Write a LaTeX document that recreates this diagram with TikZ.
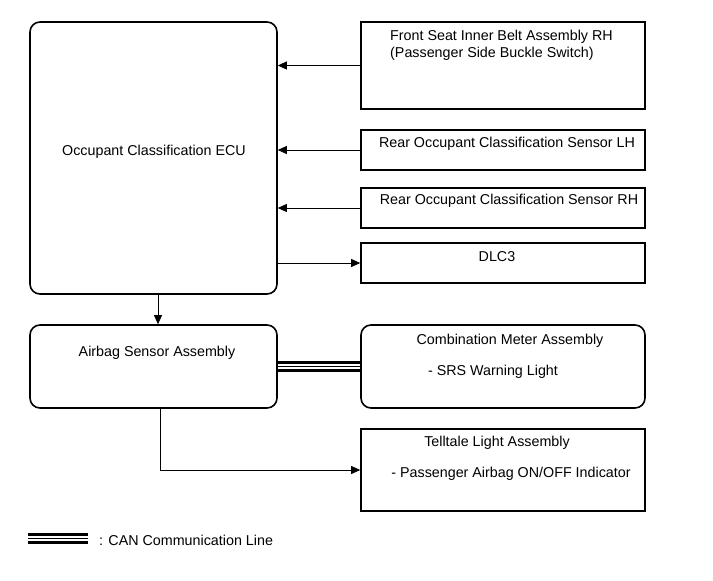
\documentclass[tikz,border=0pt]{standalone}
\usepackage{fontspec}
\setmainfont{Liberation Sans}
\usetikzlibrary{arrows.meta,positioning}

\tikzset{
    unit/.style={draw, line width=1.6pt, rounded corners=10pt, inner sep=0pt},
    part/.style={draw, line width=1.6pt, inner sep=0pt},
    txt/.style={inner sep=0pt, font=\fontsize{14.3}{16}\selectfont},
    sig/.style={-{Triangle[length=9pt,width=8pt]}, line width=0.8pt},
    can/.style={line width=2.5pt}
}

\begin{document}
\begin{tikzpicture}[x=1pt, y=-1pt]
            \useasboundingbox (0,0) rectangle (713,581);

            % boxes
            \node[unit, minimum width=247pt, minimum height=272pt] (ecu)    at (153.5,158)   {};
            \node[part, minimum width=284pt, minimum height=87pt]  (belt)   at (503,65.5)    {};
            \node[part, minimum width=284pt, minimum height=40pt]  (rearlh) at (503,150)     {};
            \node[part, minimum width=284pt, minimum height=40pt]  (rearrh) at (503,208)     {};
            \node[part, minimum width=284pt, minimum height=40pt]  (dlc)    at (503,263)     {};
            \node[unit, minimum width=247pt, minimum height=83pt]  (airbag) at (153.5,366.5) {};
            \node[unit, minimum width=284pt, minimum height=83pt]  (meter)  at (503,366.5)   {};
            \node[part, minimum width=284pt, minimum height=82pt]  (tell)   at (503,470)     {};

            % texts
            \node[txt]                      (ecut)    at (154,152)  {Occupant Classification ECU};
            \node[txt, anchor=west]         (beltt1)  at (390,37)   {Front Seat Inner Belt Assembly RH};
            \node[txt, anchor=west]         (beltt2)  at (390,54)   {(Passenger Side Buckle Switch)};
            \node[txt]                      (rearlht) at (507,144)  {Rear Occupant Classification Sensor LH};
            \node[txt]                      (rearrht) at (509,201)  {Rear Occupant Classification Sensor RH};
            \node[txt]                      (dlct)    at (497,257)  {DLC3};
            \node[txt]                      (airbagt) at (157,353)  {Airbag Sensor Assembly};
            \node[txt]                      (metert1) at (510,341)  {Combination Meter Assembly};
            \node[txt]                      (metert2) at (493,372)  {- SRS Warning Light};
            \node[txt]                      (tellt1)  at (497,443)  {Telltale Light Assembly};
            \node[txt]                      (tellt2)  at (511,474)  {- Passenger Airbag ON/OFF Indicator};

            % signal lines
            \draw[sig] (belt.west)   -- (ecu.east |- belt.west);
            \draw[sig] (rearlh.west) -- (ecu.east |- rearlh.west);
            \draw[sig] (rearrh.west) -- (ecu.east |- rearrh.west);
            \draw[sig] (ecu.east |- dlc.west) -- (dlc.west);
            \draw[sig] ([xshift=4.5pt]ecu.south) -- ([xshift=4.5pt]airbag.north);
            \draw[sig] ([xshift=6.5pt]airbag.south) |- (tell.west);

            % CAN line
            \foreach \dy in {-4,4}
                \draw[can] ([yshift=\dy pt]airbag.east) -- ([yshift=\dy pt]meter.west);
            \draw[line width=0.9pt] (airbag.east) -- (meter.west);

            % legend
            \coordinate (lega) at (28,538.5);
            \coordinate (legb) at (88,538.5);
            \foreach \dy in {-4,4}
                \draw[can] ([yshift=\dy pt]lega) -- ([yshift=\dy pt]legb);
            \draw[line width=0.9pt] (lega) -- (legb);
            \node[txt, anchor=west] (legt) at (99,540) {: CAN Communication Line};
\end{tikzpicture}
\end{document}
